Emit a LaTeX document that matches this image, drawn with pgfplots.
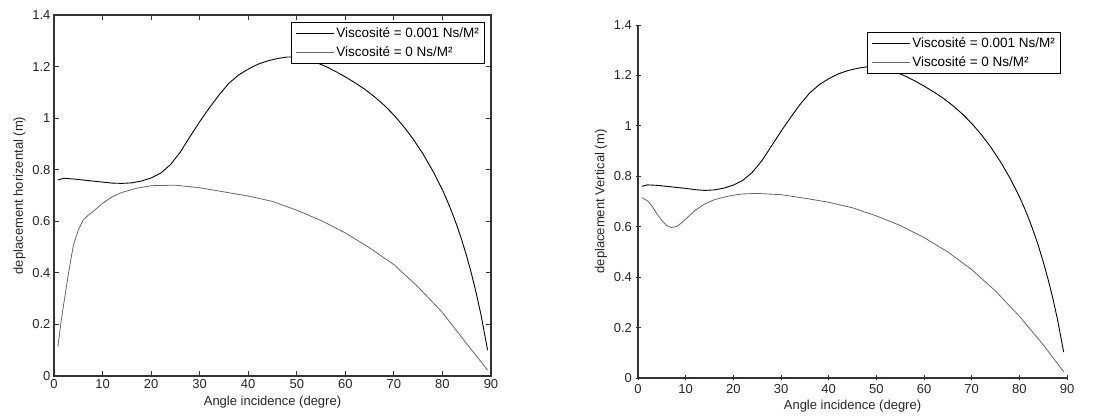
\documentclass[border=0pt]{standalone}
\usepackage{fontspec}
\setmainfont{Liberation Sans}
\usepackage{pgfplots}
\pgfplotsset{compat=1.18}

\pgfplotsset{
  matfig/.style={
    scale only axis,
    xmin=0, xmax=90, ymin=0, ymax=1.4,
    xtick={0,10,...,90},
    ytick={0,0.2,0.4,0.6,0.8,1,1.2,1.4},
    /pgf/number format/assume math mode=true,
    /pgf/number format/fixed,
    tick label style={font=\fontsize{13}{15}\selectfont, text=black!85},
    label style={font=\fontsize{13}{15}\selectfont, text=black!85},
    tick align=inside,
    major tick length=5pt,
    tick style={black!80, line width=0.8pt},
    axis line style={black!80, line width=1.2pt},
    xlabel={Angle incidence (degre)},
    legend cell align=left,
    legend style={
      at={(rel axis cs:1,1)}, anchor=north east, xshift=-6pt, yshift=-7pt,
      font=\fontsize{13.5}{16}\selectfont, draw=black, line width=1pt,
      row sep=3pt, inner sep=3.5pt, fill=white,
    },
    legend image code/.code={\draw[##1] (0pt,0pt) -- (38pt,0pt);},
  },
  visc/.style={black, line width=0.9pt},
  nonvisc/.style={black!60, line width=0.8pt},
}

\begin{document}
\begin{tikzpicture}
\path[use as bounding box] (0pt,0pt) rectangle (1097pt,417pt);

% panneau gauche : deplacement horizontal
\begin{axis}[matfig,
  at={(54pt,41pt)}, anchor=south west, width=437pt, height=361pt,
  ylabel={deplacement horizental (m)},
]
\addplot[visc] coordinates {
(0.8,0.760)(2,0.767)(4,0.764)(6,0.760)(8,0.756)(10,0.752)(12,0.748)(14,0.747)
(16,0.749)(18,0.756)(20,0.768)(22,0.787)(24,0.820)(26,0.868)(28,0.928)(30,0.986)
(32,1.040)(34,1.090)(36,1.135)(38,1.167)(40,1.190)(42,1.209)(44,1.222)(46,1.231)
(48,1.237)(50,1.237)(52,1.229)(54,1.216)(56,1.200)(58,1.181)(60,1.160)(62,1.137)
(64,1.112)(66,1.083)(68,1.050)(70,1.012)(72,0.968)(74,0.918)(76,0.861)(78,0.796)
(80,0.722)(81,0.679)(82,0.633)(83,0.582)(84,0.526)(85,0.464)(86,0.395)(87,0.318)
(88,0.232)(89.3,0.100)
};
\addlegendentry{Viscosité = 0.001 Ns/M²}
\addplot[nonvisc] coordinates {
(0.8,0.114)(1.5,0.217)(3,0.400)(4,0.508)(5,0.565)(6,0.605)(7,0.623)(8,0.637)
(10,0.670)(12,0.695)(14,0.712)(17,0.728)(20,0.738)(25,0.740)(30,0.730)(35,0.714)
(40,0.698)(45,0.677)(50,0.643)(55,0.603)(60,0.555)(65,0.497)(70,0.432)(75,0.345)
(80,0.246)(85,0.125)(89.3,0.023)
};
\addlegendentry{Viscosité = 0 Ns/M²}
\end{axis}

% panneau droit : deplacement vertical
\begin{axis}[matfig,
  at={(638pt,39pt)}, anchor=south west, width=429pt, height=353pt,
  axis lines=left, axis line style={-},
  ylabel={deplacement Vertical (m)},
]
\addplot[visc] coordinates {
(0.8,0.760)(2,0.766)(4,0.764)(6,0.760)(8,0.756)(10,0.752)(12,0.747)(14,0.744)
(16,0.746)(18,0.753)(20,0.765)(22,0.784)(24,0.816)(26,0.862)(28,0.920)(30,0.978)
(32,1.033)(34,1.085)(36,1.130)(38,1.163)(40,1.187)(42,1.206)(44,1.219)(46,1.228)
(48,1.234)(50,1.234)(52,1.227)(54,1.214)(56,1.198)(58,1.179)(60,1.158)(62,1.135)
(64,1.110)(66,1.081)(68,1.048)(70,1.010)(72,0.966)(74,0.916)(76,0.859)(78,0.794)
(80,0.720)(81,0.677)(82,0.631)(83,0.580)(84,0.524)(85,0.462)(86,0.394)(87,0.318)
(88,0.233)(89.3,0.103)
};
\addlegendentry{Viscosité = 0.001 Ns/M²}
\addplot[nonvisc] coordinates {
(0.8,0.715)(2,0.703)(3,0.680)(4,0.650)(5,0.625)(6,0.605)(7,0.597)(8,0.600)
(9,0.613)(10,0.630)(12,0.665)(14,0.690)(16,0.707)(18,0.717)(20,0.725)(22,0.730)
(25,0.732)(30,0.727)(35,0.713)(40,0.697)(45,0.675)(50,0.643)(55,0.605)(60,0.557)
(65,0.500)(70,0.430)(75,0.345)(80,0.245)(85,0.132)(89.3,0.025)
};
\addlegendentry{Viscosité = 0 Ns/M²}
\end{axis}
\end{tikzpicture}
\end{document}
